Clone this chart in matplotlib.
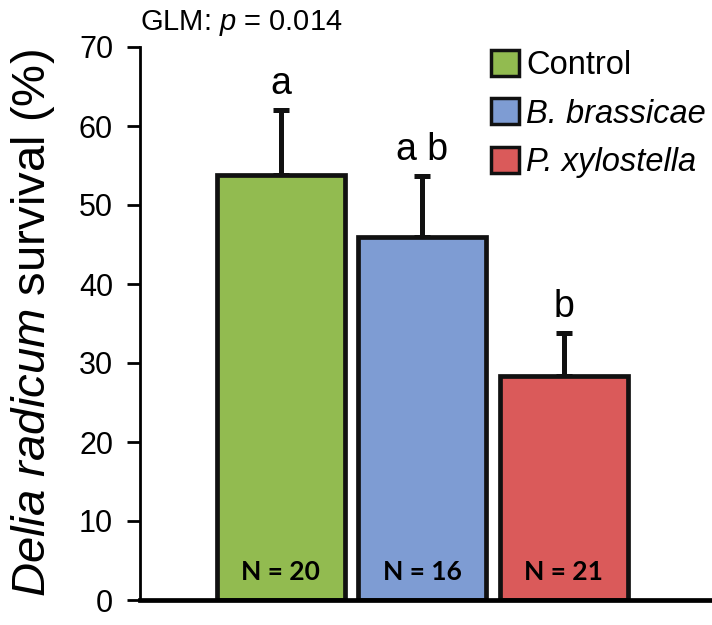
import matplotlib
matplotlib.use("Agg")
import matplotlib.pyplot as plt
from matplotlib.patches import Patch

plt.rcParams['font.family'] = ['Liberation Sans', 'DejaVu Sans']
plt.rcParams['mathtext.fontset'] = 'custom'
plt.rcParams['mathtext.rm'] = 'Liberation Sans'
plt.rcParams['mathtext.it'] = 'Liberation Sans:italic'

categories = ['Control', 'B. brassicae', 'P. xylostella']
means = [53.8, 45.9, 28.4]
errors = [8.2, 7.8, 5.4]
sig_letters = ['a', 'a b', 'b']
n_labels = ['N = 20', 'N = 16', 'N = 21']
colors = ['#92BB50', '#7E9CD3', '#DA5A5A']
italic_legend = [False, True, True]

fig = plt.figure(figsize=(7.12, 6.25), dpi=100)
ax = fig.add_axes([0.1966, 0.04, 0.8034, 0.8848])

x = list(range(len(categories)))
ax.bar(x, means, width=0.905, color=colors, edgecolor='#111111', linewidth=3.4, zorder=2)
ax.errorbar(x, means, yerr=[[0]*3, errors], fmt='none', ecolor='#111111',
            elinewidth=3.6, capsize=5.5, capthick=3.6, zorder=1)

for xi, m, e, s in zip(x, means, errors, sig_letters):
    ax.text(xi, m + e + 2.0, s, ha='center', va='baseline', fontsize=27)
for xi, n in zip(x, n_labels):
    ax.text(xi, 3.5, n, ha='center', va='center', fontsize=19, fontweight='bold',
            family=['Lato', 'DejaVu Sans'])

ax.set_xlim(-0.997, 3.05)
ax.set_ylim(0, 70)
ax.set_yticks(range(0, 71, 10))
ax.set_xticks([])
ax.spines['top'].set_visible(False)
ax.spines['right'].set_visible(False)
ax.spines['left'].set_linewidth(2.0)
ax.spines['bottom'].set_linewidth(3.4)
ax.tick_params(axis='y', length=9.4, width=2.0, labelsize=22, pad=10)
ax.set_ylabel(r'$\mathit{Delia\ radicum}$ survival (%)', fontsize=34, labelpad=16)

fig.text(0.196, 0.952, r'GLM: $\mathit{p}$ = 0.014', fontsize=21, ha='left', va='baseline')

handles = [Patch(facecolor=c, edgecolor='#111111', linewidth=2.5) for c in colors]
leg = ax.legend(handles, categories, loc='upper right', bbox_to_anchor=(1.024, 1.03),
                frameon=False, fontsize=23.5, handlelength=0.85, handleheight=0.85,
                handletextpad=0.22, labelspacing=0.52, borderaxespad=0.2)
for t, it in zip(leg.get_texts(), italic_legend):
    if it:
        t.set_fontstyle('italic')

fig.savefig('out.png', dpi=100)
